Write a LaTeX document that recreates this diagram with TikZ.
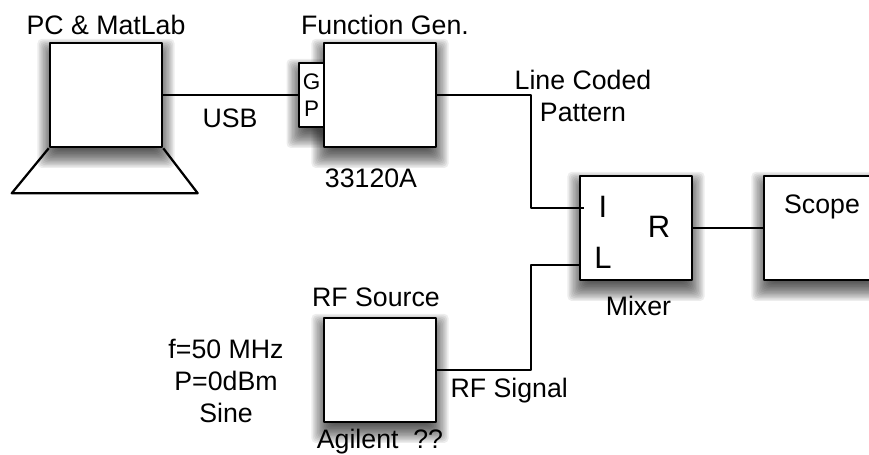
\documentclass[tikz,border=0pt]{standalone}
\usepackage{fontspec}
\setmainfont{Liberation Sans}
\usetikzlibrary{arrows.meta, positioning, calc, backgrounds}

\begin{document}
\begin{tikzpicture}[auto, thick, node distance=2cm, >=stealth, line width=1.6pt, line join=round, font=\fontsize{19}{23}\selectfont]

		% Define block styles
		\tikzstyle{block} = [rectangle, draw, fill=white, line width=1.8pt, minimum width=2.8cm, minimum height=2.6cm, inner sep=0pt]
		\tikzstyle{tab} = [rectangle, draw, fill=white, line width=1.8pt, minimum width=0.625cm, minimum height=1.6cm, inner sep=0pt]
		\tikzstyle{label} = [inner sep=0pt, text centered]
		\tikzstyle{port} = [inner sep=0pt, font=\fontsize{22}{26}\selectfont]

		\useasboundingbox (0,0) rectangle (21.725,11.375);

		% Nodes
		\node[block] (pc) at (2.65,9) {};
		\draw (pc.south west) -- ++(-0.925,-1.125) coordinate (baseleft) -- ++(4.65,0) coordinate (baseright) -- (pc.south east);
		\node[tab] (gpib) at (7.79,9) {};
		\node[block, right of=pc, node distance=6.85cm] (funcgen) {};
		\node[block] (mixer) at (15.9,5.675) {};
		\node[block, right of=mixer, node distance=4.6cm] (scope) {};
		\node[block] (rfsource) at (9.5,2.125) {};

		% Ports
		\coordinate (portI) at ($(mixer.west)+(0.125,0.5)$);
		\coordinate (portL) at ($(mixer.west)+(0,-0.925)$);
		\coordinate (turnI) at ($(funcgen.east)+(2.35,0)$);
		\coordinate (turnL) at ($(rfsource.east)+(2.35,0)$);

		% Arrows
		\draw (pc.east) -- (gpib.west);
		\draw (funcgen.east) -- (turnI) |- (portI);
		\draw (rfsource.east) -- (turnL) |- (portL);
		\draw (mixer.east) -- (scope.west);

		% Labels
		\node[label, above of=pc, node distance=1.75cm] (pclabel) {PC \& MatLab};
		\node[label, above of=funcgen, node distance=1.75cm, xshift=0.125cm] (funcgenlabel) {Function Gen.};
		\node[label, below of=funcgen, node distance=2.075cm, xshift=-0.225cm] (modellabel) {33120A};
		\node[label] (usb) at (5.75,8.425) {USB};
		\node[label, align=center, font=\fontsize{16}{19}\selectfont] (gplabel) at (gpib) {G\\P};
		\node[label, align=center] (pattern) at (14.575,8.975) {Line Coded\\Pattern};
		\node[port] (inI) at (15.075,6.2) {I};
		\node[port] (inL) at (15.075,4.925) {L};
		\node[port] (outR) at (16.475,5.7) {R};
		\node[label, below of=mixer, node distance=1.95cm, xshift=0.06cm] (mixerlabel) {Mixer};
		\node[label] (scopelabel) at (20.55,6.2) {Scope};
		\node[label, above of=rfsource, node distance=1.825cm, xshift=-0.1cm] (rflabel) {RF Source};
		\node[label] (agilent) at (9.5,0.33) {Agilent~~??};
		\node[label, align=center] (settings) at (5.65,1.85) {f=50 MHz\\P=0dBm\\Sine};
		\node[label] (rfsignal) at (12.73,1.62) {RF Signal};

		% Shadows
		\begin{pgfonlayer}{background}
			\foreach \blockname in {pc,gpib,funcgen,mixer,scope,rfsource} {
				\foreach \r in {8,7,...,-6} {
					\fill[black, opacity=0.07, rounded corners=3pt] ([shift={(-\r pt,-6pt-\r pt)}]\blockname.south west) rectangle ([shift={(\r pt,-6pt+\r pt)}]\blockname.north east);
				}
			}
		\end{pgfonlayer}

	\end{tikzpicture}
\end{document}
